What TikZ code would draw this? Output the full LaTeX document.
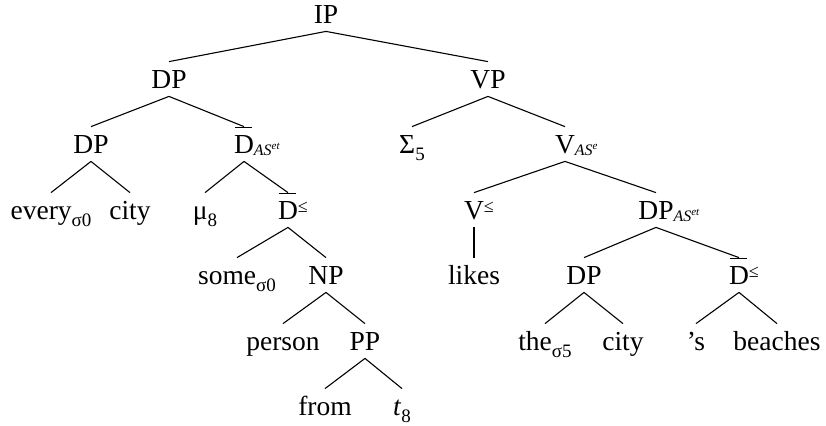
\documentclass[tikz,border=0pt]{standalone}
\usepackage{fontspec}
\setmainfont{Liberation Serif}
\newcommand\lowidx[1]{\raisebox{-3.5pt}{\fontsize{9.5}{10}\selectfont #1}}
\newcommand\ASidx[1]{\raisebox{-1pt}{\fontsize{8}{9}\selectfont\itshape AS\raisebox{3pt}{\fontsize{5.5}{6}\selectfont #1}}}
\newcommand\leqsup{\raisebox{3.5pt}{\fontsize{9}{10}\selectfont ≤}}
\newcommand\Dbar{\leavevmode\rlap{\kern0.03em\raisebox{12.5pt}{\rule{0.62em}{0.5pt}}}D}
\tikzset{
  tn/.style={anchor=base, inner xsep=0pt, inner ysep=4pt, text height=9pt, text depth=0pt,
    font=\fontsize{13.75}{16}\selectfont},
  br/.style={line width=0.55pt}
}
\begin{document}
\begin{tikzpicture}[x=0.5pt,y=-0.5pt]
\useasboundingbox (0,0) rectangle (826,425);
% level 0
\node[tn] (IP) at (326,23) {IP};
% level 1
\node[tn] (DPa) at (169,88) {DP};
\node[tn] (VP) at (488,88) {VP};
% level 2
\node[tn] (DPb) at (91,153) {DP};
\node[tn] (Dbara) at (244,153) {\Dbar\rlap{\ASidx{et}}};
\node[tn] (Sig) at (412,153) {Σ\lowidx{5}};
\node[tn] (Vae) at (565,153) {V\rlap{\ASidx{e}}};
% level 3
\node[tn] (every) at (51,219) {every\lowidx{σ0}};
\node[tn] (citya) at (130,219) {city};
\node[tn] (mu) at (205,219) {μ\lowidx{8}};
\node[tn] (Dbarb) at (288,219) {\Dbar\rlap{\leqsup}};
\node[tn] (Vle) at (474,219) {V\rlap{\leqsup}};
\node[tn] (DPc) at (656,219) {DP\rlap{\ASidx{et}}};
% level 4
\node[tn] (some) at (237,284) {some\lowidx{σ0}};
\node[tn] (NP) at (326,284) {NP};
\node[tn] (likes) at (474,284) {likes};
\node[tn] (DPd) at (584,284) {DP};
\node[tn] (Dbarc) at (739,284) {\Dbar\rlap{\leqsup}};
% level 5
\node[tn] (person) at (283,350) {person};
\node[tn] (PP) at (365,350) {PP};
\node[tn] (the) at (545,350) {the\lowidx{σ5}};
\node[tn] (cityb) at (623,350) {city};
\node[tn] (poss) at (696,350) {’s};
\node[tn] (beaches) at (777,350) {beaches};
% level 6
\node[tn] (from) at (325,415) {from};
\node[tn] (trace) at (402,415) {\textit{t}\lowidx{8}};
% branches
\draw[br] (IP.south) -- (DPa.north);
\draw[br] (IP.south) -- (VP.north);
\draw[br] (DPa.south) -- (DPb.north);
\draw[br] (DPa.south) -- (Dbara.north);
\draw[br] (VP.south) -- (Sig.north);
\draw[br] (VP.south) -- (Vae.north);
\draw[br] (DPb.south) -- (every.north);
\draw[br] (DPb.south) -- (citya.north);
\draw[br] (Dbara.south) -- (mu.north);
\draw[br] (Dbara.south) -- (Dbarb.north);
\draw[br] (Vae.south) -- (Vle.north);
\draw[br] (Vae.south) -- (DPc.north);
\draw[br] (Dbarb.south) -- (some.north);
\draw[br] (Dbarb.south) -- (NP.north);
\draw[br] (Vle.south) -- (likes.north);
\draw[br] (DPc.south) -- (DPd.north);
\draw[br] (DPc.south) -- (Dbarc.north);
\draw[br] (NP.south) -- (person.north);
\draw[br] (NP.south) -- (PP.north);
\draw[br] (DPd.south) -- (the.north);
\draw[br] (DPd.south) -- (cityb.north);
\draw[br] (Dbarc.south) -- (poss.north);
\draw[br] (Dbarc.south) -- (beaches.north);
\draw[br] (PP.south) -- (from.north);
\draw[br] (PP.south) -- (trace.north);
\end{tikzpicture}
\end{document}
